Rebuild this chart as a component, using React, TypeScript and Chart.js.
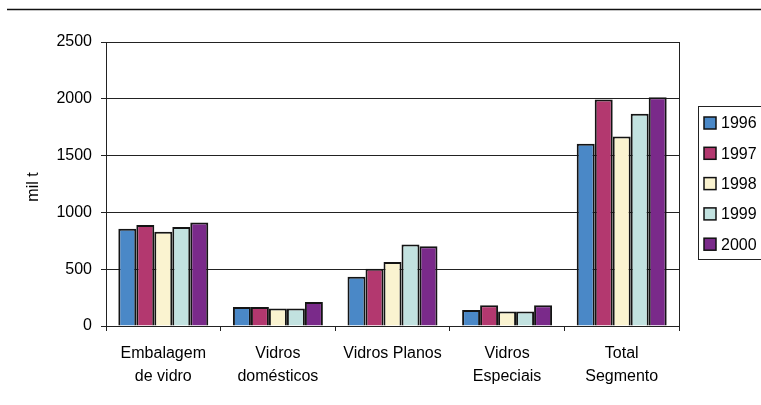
import React, { useEffect, useRef } from "react";
import { Chart, registerables } from "chart.js";

Chart.register(...registerables);

const categories: string[][] = [
  ["Embalagem", "de vidro"],
  ["Vidros", "domésticos"],
  ["Vidros Planos"],
  ["Vidros", "Especiais"],
  ["Total", "Segmento"],
];
const years = ["1996", "1997", "1998", "1999", "2000"];
const values1996 = [857, 167, 434, 141, 1604];
const values1997 = [888, 167, 505, 182, 1994];
const values1998 = [830, 153, 563, 127, 1668];
const values1999 = [871, 153, 718, 127, 1868];
const values2000 = [912, 211, 701, 182, 2014];
const seriesValues = [values1996, values1997, values1998, values1999, values2000];
const seriesColors = ["#4a88c7", "#b3386f", "#faf3d0", "#c2e2e0", "#7a2a8a"];
const yAxisTitle = "mil t";
const yMax = 2500;
const yStep = 500;

const FONT = "'Liberation Sans', Arial, sans-serif";

const framePlugin = {
  id: "frame",
  afterDraw(chart: any) {
    const { ctx, chartArea } = chart;
    ctx.save();
    // separator line across the top
    ctx.strokeStyle = "#111";
    ctx.lineWidth = 1.5;
    ctx.beginPath();
    ctx.moveTo(7, 9.5);
    ctx.lineTo(761, 9.5);
    ctx.stroke();

    // right edge of the plot box
    ctx.lineWidth = 1;
    ctx.strokeStyle = "#222";
    ctx.beginPath();
    ctx.moveTo(Math.round(chartArea.right) + 0.5, chartArea.top);
    ctx.lineTo(Math.round(chartArea.right) + 0.5, chartArea.bottom);
    ctx.stroke();

    // y axis title
    ctx.fillStyle = "#000";
    ctx.font = `16px ${FONT}`;
    ctx.textAlign = "center";
    ctx.textBaseline = "middle";
    ctx.translate(34, 187);
    ctx.rotate(-Math.PI / 2);
    ctx.fillText(yAxisTitle, 0, 0);
    ctx.restore();

    // legend box
    ctx.save();
    const lx = 698.5;
    const ly = 106.5;
    ctx.strokeStyle = "#222";
    ctx.lineWidth = 1;
    ctx.strokeRect(lx, ly, 80, 153);
    ctx.font = `16px ${FONT}`;
    ctx.textAlign = "left";
    ctx.textBaseline = "middle";
    chart.data.datasets.forEach((ds: any, i: number) => {
      const cy = 123 + i * 30.3;
      ctx.fillStyle = ds.backgroundColor;
      ctx.fillRect(704, cy - 6, 12, 12);
      ctx.lineWidth = 1.5;
      ctx.strokeStyle = "#111";
      ctx.strokeRect(704, cy - 6, 12, 12);
      ctx.fillStyle = "#000";
      ctx.fillText(ds.label, 721, cy + 1);
    });
    ctx.restore();
  },
};

export default function App() {
  const canvasRef = useRef<HTMLCanvasElement | null>(null);

  useEffect(() => {
    document.body.style.margin = "0";
    const canvas = canvasRef.current;
    if (!canvas) return;
    const chart = new Chart(canvas, {
      type: "bar",
      data: {
        labels: categories,
        datasets: years.map((year, i) => ({
          label: year,
          data: seriesValues[i],
          backgroundColor: seriesColors[i],
          borderColor: "#141414",
          borderWidth: 2,
          categoryPercentage: 0.785,
          barPercentage: 1,
        })),
      },
      options: {
        animation: false,
        responsive: false,
        maintainAspectRatio: false,
        layout: { padding: { left: 0, top: 42, right: 82, bottom: 0 } },
        plugins: {
          legend: { display: false },
          tooltip: { enabled: false },
        },
        scales: {
          x: {
            afterFit(scale: any) {
              scale.height = 79;
            },
            grid: {
              display: true,
              offset: true,
              drawOnChartArea: false,
              drawTicks: true,
              tickLength: 5,
              color: "#222",
            },
            border: { display: true, color: "#222", width: 1 },
            ticks: {
              color: "#000",
              padding: 11,
              maxRotation: 0,
              autoSkip: false,
              font: { family: FONT, size: 16, lineHeight: 1.45 },
            },
          },
          y: {
            min: 0,
            max: yMax,
            afterFit(scale: any) {
              scale.width = 106;
            },
            grid: {
              color: "#222",
              drawTicks: true,
              tickLength: 5,
            },
            border: { display: true, color: "#222", width: 1 },
            ticks: {
              stepSize: yStep,
              color: "#000",
              padding: 9,
              font: { family: FONT, size: 16 },
              callback: (v: any) => String(v),
            },
          },
        },
      },
      plugins: [framePlugin],
    });
    return () => chart.destroy();
  }, []);

  return <canvas ref={canvasRef} width={761} height={405} style={{ display: "block" }} />;
}
